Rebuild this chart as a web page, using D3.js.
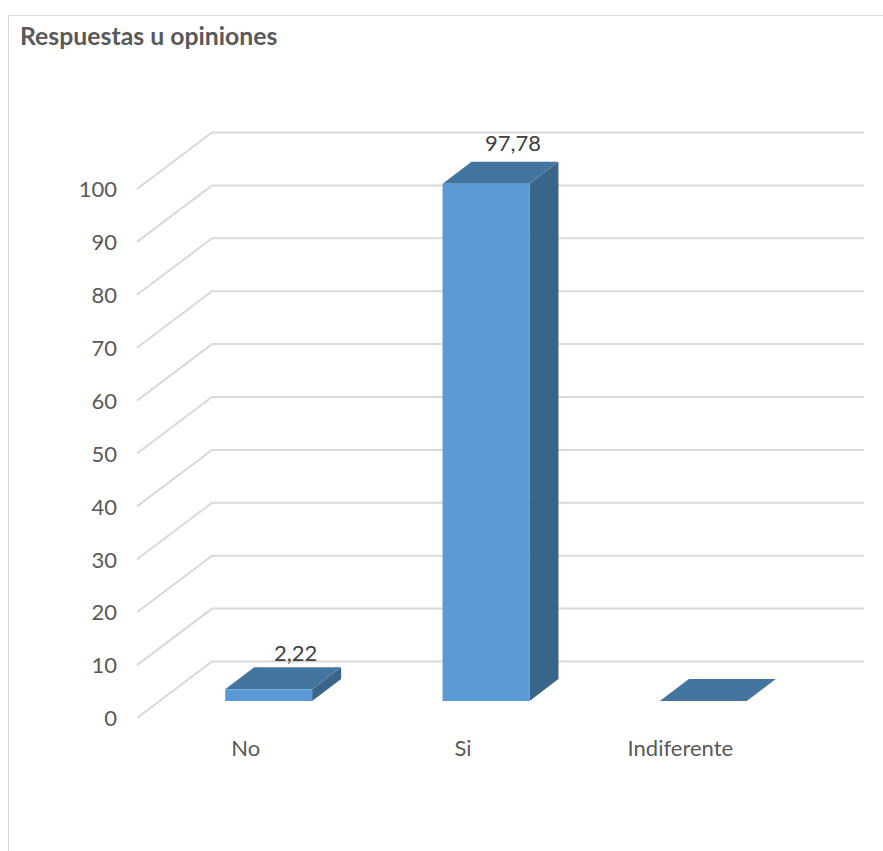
<!DOCTYPE html>
<html>
<head>
<meta charset="utf-8">
<script src="https://cdn.jsdelivr.net/npm/d3@7"></script>
<style>
  html, body { margin: 0; padding: 0; background: #fff; }
  svg { display: block; }
  text { font-family: Lato, "Open Sans", sans-serif; }
</style>
</head>
<body>
<script>
// Chart content
const titleText = "Respuestas u opiniones";
const categories = ["No", "Si", "Indiferente"];
const percentages = [2.22, 97.78, 0];
const valueLabels = ["2,22", "97,78", null];
const tickValues = [0, 10, 20, 30, 40, 50, 60, 70, 80, 90, 100];

const width = 883, height = 851;

// Oblique offset of the 3D walls and of the bar depth
const wall = { dx: 75, dy: -56.5 };
const barDepth = { dx: 29, dy: -22 };
// Gap between each value label's baseline and the back edge of its bar
const labelLift = [6, 10.5, 0];

const svg = d3.select("body").append("svg")
  .attr("width", width).attr("height", height);

// Frame: open on the right and bottom edges of the page
svg.append("path")
  .attr("d", `M8.5,${height} V15.5 H${width}`)
  .attr("fill", "none").attr("stroke", "#d9d9d9").attr("stroke-width", 1);

svg.append("text")
  .attr("x", 20).attr("y", 44.5)
  .attr("font-size", 24.8).attr("font-weight", 700).attr("fill", "#595959")
  .text(titleText);

// Value scale on the front edge of the side wall
const y = d3.scaleLinear().domain([0, 100]).range([718, 189]);
const xWallLeft = 137;
const xGridRight = 864;

const bars = d3.scaleBand().domain(categories).range([160, 812]).paddingInner(0.6).paddingOuter(0.3);

// Walls: a slanted segment on the side wall, a flat one on the back wall
const grid = svg.append("g").attr("fill", "none").attr("stroke", "#d9d9d9").attr("stroke-width", 2);
grid.selectAll("path").data(tickValues).join("path")
  .attr("d", t => `M${xWallLeft},${y(t)} L${xWallLeft + wall.dx},${y(t) + wall.dy} H${xGridRight}`);

// Value axis labels
const yAxis = d3.axisLeft(y).tickValues(tickValues).tickSize(0).tickPadding(0).tickFormat(d3.format("d"));
const yG = svg.append("g").attr("transform", "translate(117,0)").call(yAxis);
yG.select(".domain").remove();
yG.selectAll("text").attr("font-size", 22).attr("fill", "#595959").attr("dy", "0.35em");

// Floor line of the bars' front faces
const floorY = 701;
const perUnit = (y(0) - y(100)) / 100;
const colFront = "#5b9bd5", colTop = "#44759f", colSide = "#3a658b";

const bar = svg.append("g").selectAll("g")
  .data(categories.map((c, i) => ({ c, v: percentages[i], label: valueLabels[i], lift: labelLift[i] })))
  .join("g");

bar.each(function (d) {
  const g = d3.select(this);
  const x0 = bars(d.c), x1 = x0 + bars.bandwidth();
  const top = floorY - d.v * perUnit;
  const { dx, dy } = barDepth;
  g.append("path").attr("fill", colSide)
    .attr("d", `M${x1},${floorY} L${x1 + dx},${floorY + dy} V${top + dy} L${x1},${top} Z`);
  g.append("path").attr("fill", colTop)
    .attr("d", `M${x0},${top} L${x0 + dx},${top + dy} H${x1 + dx} L${x1},${top} Z`);
  g.append("rect").attr("fill", colFront)
    .attr("x", x0).attr("y", top).attr("width", x1 - x0).attr("height", floorY - top);
  if (d.label) {
    g.append("text")
      .attr("x", (x0 + x1 + dx) / 2 + 12.5).attr("y", top + dy - d.lift)
      .attr("text-anchor", "middle").attr("font-size", 22).attr("fill", "#404040")
      .text(d.label);
  }
});

// Category labels sit left of the bars, following the floor's oblique shift
const xAxis = d3.axisBottom(bars).tickSize(0).tickPadding(0);
const xG = svg.append("g").attr("transform", "translate(-23,740)").call(xAxis);
xG.select(".domain").remove();
xG.selectAll("text").attr("font-size", 22).attr("fill", "#595959");
</script>
</body>
</html>
